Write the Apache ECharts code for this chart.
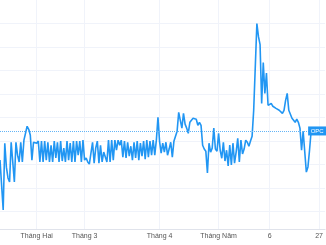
<!DOCTYPE html>
<html><head><meta charset="utf-8">
<script src="https://cdn.jsdelivr.net/npm/echarts@6/dist/echarts.min.js"></script>
<style>html,body{margin:0;padding:0;background:#fff}#c{width:326px;height:245px}</style>
</head><body><div id="c"></div>
<script>
const symbolName = 'OPC';
const prices = [
3.19,3.11,1.07,3.91,2.89,2.43,2.26,3.95,3.11,2.26,
3.95,3.40,3.11,3.95,3.11,4.04,4.12,4.63,4.50,4.25,
3.19,3.95,4.00,3.91,4.00,3.11,4.00,3.11,4.00,3.19,
3.95,3.11,3.82,3.11,4.00,3.28,3.95,3.11,4.00,3.15,
3.70,3.11,4.00,3.19,3.91,3.11,4.00,3.11,4.00,3.40,
4.00,3.11,4.04,3.19,3.28,3.11,3.02,2.98,3.95,3.06,
3.70,4.00,3.06,3.82,3.11,3.53,3.32,3.11,4.04,3.11,
4.04,3.19,4.04,3.61,4.04,3.82,4.04,3.32,4.00,3.28,
3.95,3.36,3.78,3.19,3.95,3.28,4.00,3.19,3.91,3.36,
4.00,3.23,4.04,3.32,4.00,3.40,4.04,3.40,4.04,5.01,
3.99,3.49,3.91,3.53,3.95,3.40,3.66,3.95,3.32,3.99,
4.04,4.42,5.22,5.14,4.55,5.18,4.72,4.55,4.33,4.80,
4.84,4.97,4.93,4.93,4.67,4.80,4.67,3.82,3.66,3.57,
2.64,3.91,3.53,3.70,4.55,3.66,3.57,4.33,3.61,3.27,
3.95,3.15,3.61,2.94,3.83,2.98,3.91,3.06,3.53,4.12,
3.11,4.04,3.45,3.66,4.04,3.95,3.78,4.00,4.20,5.31,
5.31,9.00,8.44,8.10,5.60,7.34,6.03,6.89,5.52,5.52,
5.60,5.48,5.43,5.39,5.35,5.31,5.26,5.18,5.31,5.73,
6.03,5.31,5.14,4.97,4.89,4.80,4.93,4.80,4.55,3.61,
4.42,4.42,2.68,2.90,3.61,4.43
];
const tickIndex = [23, 53, 100, 137, 169, 200];
const tickLabels = ['Tháng Hai', 'Tháng 3', 'Tháng 4', 'Tháng Năm', '6', '27'];
const yGridValues = [1, 2, 3, 4, 5, 6, 7, 8, 9];

const lastIndex = prices.length - 1;
const lastValue = prices[lastIndex];
const seriesData = prices.map((v, i) => [i, v]);

const chart = echarts.init(document.getElementById('c'), null, {renderer: 'canvas'});
chart.setOption({
  animation: false,
  backgroundColor: '#ffffff',
  grid: {left: 0, right: 0, top: 0, bottom: 16, containLabel: false},
  xAxis: {
    type: 'value', min: 0, max: 203.75,
    axisLine: {show: true, lineStyle: {color: '#e0e3eb', width: 1}},
    axisTick: {show: false, customValues: tickIndex},
    axisLabel: {
      customValues: tickIndex, margin: 4, fontSize: 7, color: '#555',
      fontFamily: 'Liberation Sans, Arial, sans-serif',
      formatter: v => tickLabels[tickIndex.indexOf(v)] || ''
    },
    splitLine: {show: true, lineStyle: {color: '#f0f3fa', width: 1}}
  },
  yAxis: {
    type: 'value', min: 0.26, max: 10, position: 'right',
    axisLine: {show: false},
    axisTick: {show: false, customValues: yGridValues},
    axisLabel: {show: false, customValues: yGridValues},
    splitLine: {show: true, lineStyle: {color: '#f0f3fa', width: 1}}
  },
  series: [{
    name: symbolName,
    type: 'line',
    data: seriesData,
    showSymbol: false,
    symbol: 'none',
    lineStyle: {color: '#2196f3', width: 1.6},
    markLine: {
      silent: true, symbol: ['none', 'none'],
      label: {show: false},
      lineStyle: {color: '#64b5f6', type: 'dotted', width: 1},
      data: [{yAxis: lastValue}]
    },
    markPoint: {
      silent: true,
      symbol: 'rect', symbolSize: [18, 9], symbolOffset: [6, 0],
      itemStyle: {color: '#2196f3'},
      label: {show: true, formatter: symbolName, color: '#fff', fontSize: 6,
              fontFamily: 'Liberation Sans, Arial, sans-serif', position: 'inside'},
      data: [{coord: [lastIndex, lastValue]}]
    }
  }]
});
</script>
</body></html>
